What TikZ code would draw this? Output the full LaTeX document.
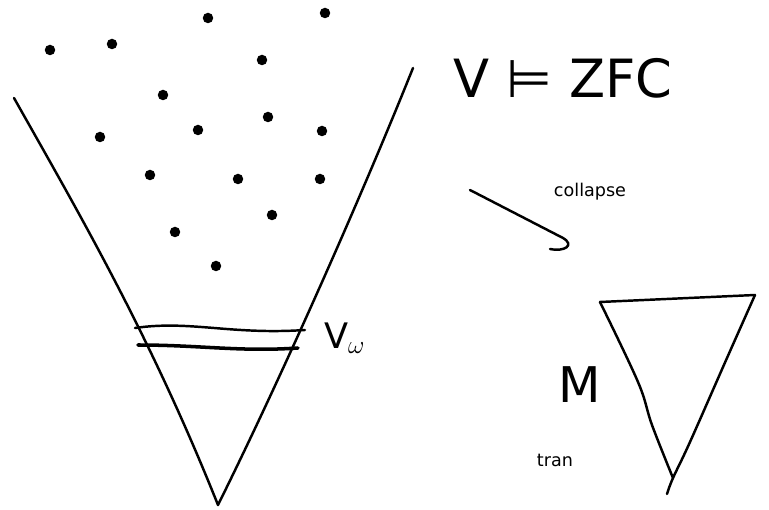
\documentclass[tikz,border=0pt]{standalone}
\usepackage{fontspec}
\setmainfont{DejaVu Sans}
\usepackage{tikz}
\usetikzlibrary{arrows.meta}
\tikzset{every node/.style={font=\large}}
\colorlet{inkcol}{black}
\colorlet{dotcol}{black}
\tikzset{
  ink/.style={line width=1.4pt, inkcol, line cap=round, line join=round},
  dotmark/.style={circle, fill=dotcol, inner sep=0pt, minimum size=2.1mm},
}

\begin{document}
\begin{tikzpicture}[x=0.02cm, y=-0.02cm, >=Stealth]

  \useasboundingbox (0,0) rectangle (769,510);

  % The universe V as a big cone.
  \coordinate (vtopL) at (14,98);
  \coordinate (vtopR) at (413,68);
  \coordinate (vapex) at (218,505);
  \draw[ink] (vtopL) .. controls (80,215) and (150,335) .. (vapex);
  \draw[ink] (vtopR) .. controls (360,200) and (280,380) .. (vapex);

  % The level V_omega (two wavy cuts).
  \draw[ink] (135,328) .. controls (190,320) and (230,335) .. (305,330);
  \draw[ink, line width=2pt] (138,345) .. controls (200,345) and (240,352) .. (298,348);
  \node[font=\fontsize{20}{24}\selectfont, anchor=west] (vomega) at (318,338) {V$_\omega$};

  % Sets scattered in V.
  \foreach \px/\py in {50/50, 112/44, 208/18, 325/13, 262/60, 163/95,
      100/137, 198/130, 268/117, 322/131, 150/175, 238/179, 320/179,
      272/215, 175/232, 216/266} {
    \node[dotmark] at (\px,\py) {};
  }

  % Label of the universe.
  \node[font=\fontsize{30}{36}\selectfont] (vzfc) at (563,78) {V ⊨ ZFC};

  % Collapse arrow.
  \coordinate (colstart) at (470,190);
  \coordinate (colend) at (563,238);
  \draw[ink] (colstart) -- (colend)
    .. controls (575,245) and (565,252) .. (550,249);
  \node[font=\normalsize] (collapse) at (590,192) {collapse};

  % The transitive model M.
  \coordinate (mtopL) at (600,302);
  \coordinate (mtopR) at (755,295);
  \coordinate (mapex) at (673,478);
  \draw[ink] (mtopL) -- (mtopR);
  \draw[ink] plot[smooth, tension=0.6] coordinates {(600,302) (638,382) (652,425) (673,478)};
  \draw[ink] plot[smooth, tension=0.6] coordinates {(755,295) (727,358) (690,442) (673,478) (667,494)};
  \node[font=\fontsize{28}{32}\selectfont] (mlabel) at (580,385) {M};
  \node[font=\normalsize] (tran) at (555,460) {tran};

\end{tikzpicture}
\end{document}
